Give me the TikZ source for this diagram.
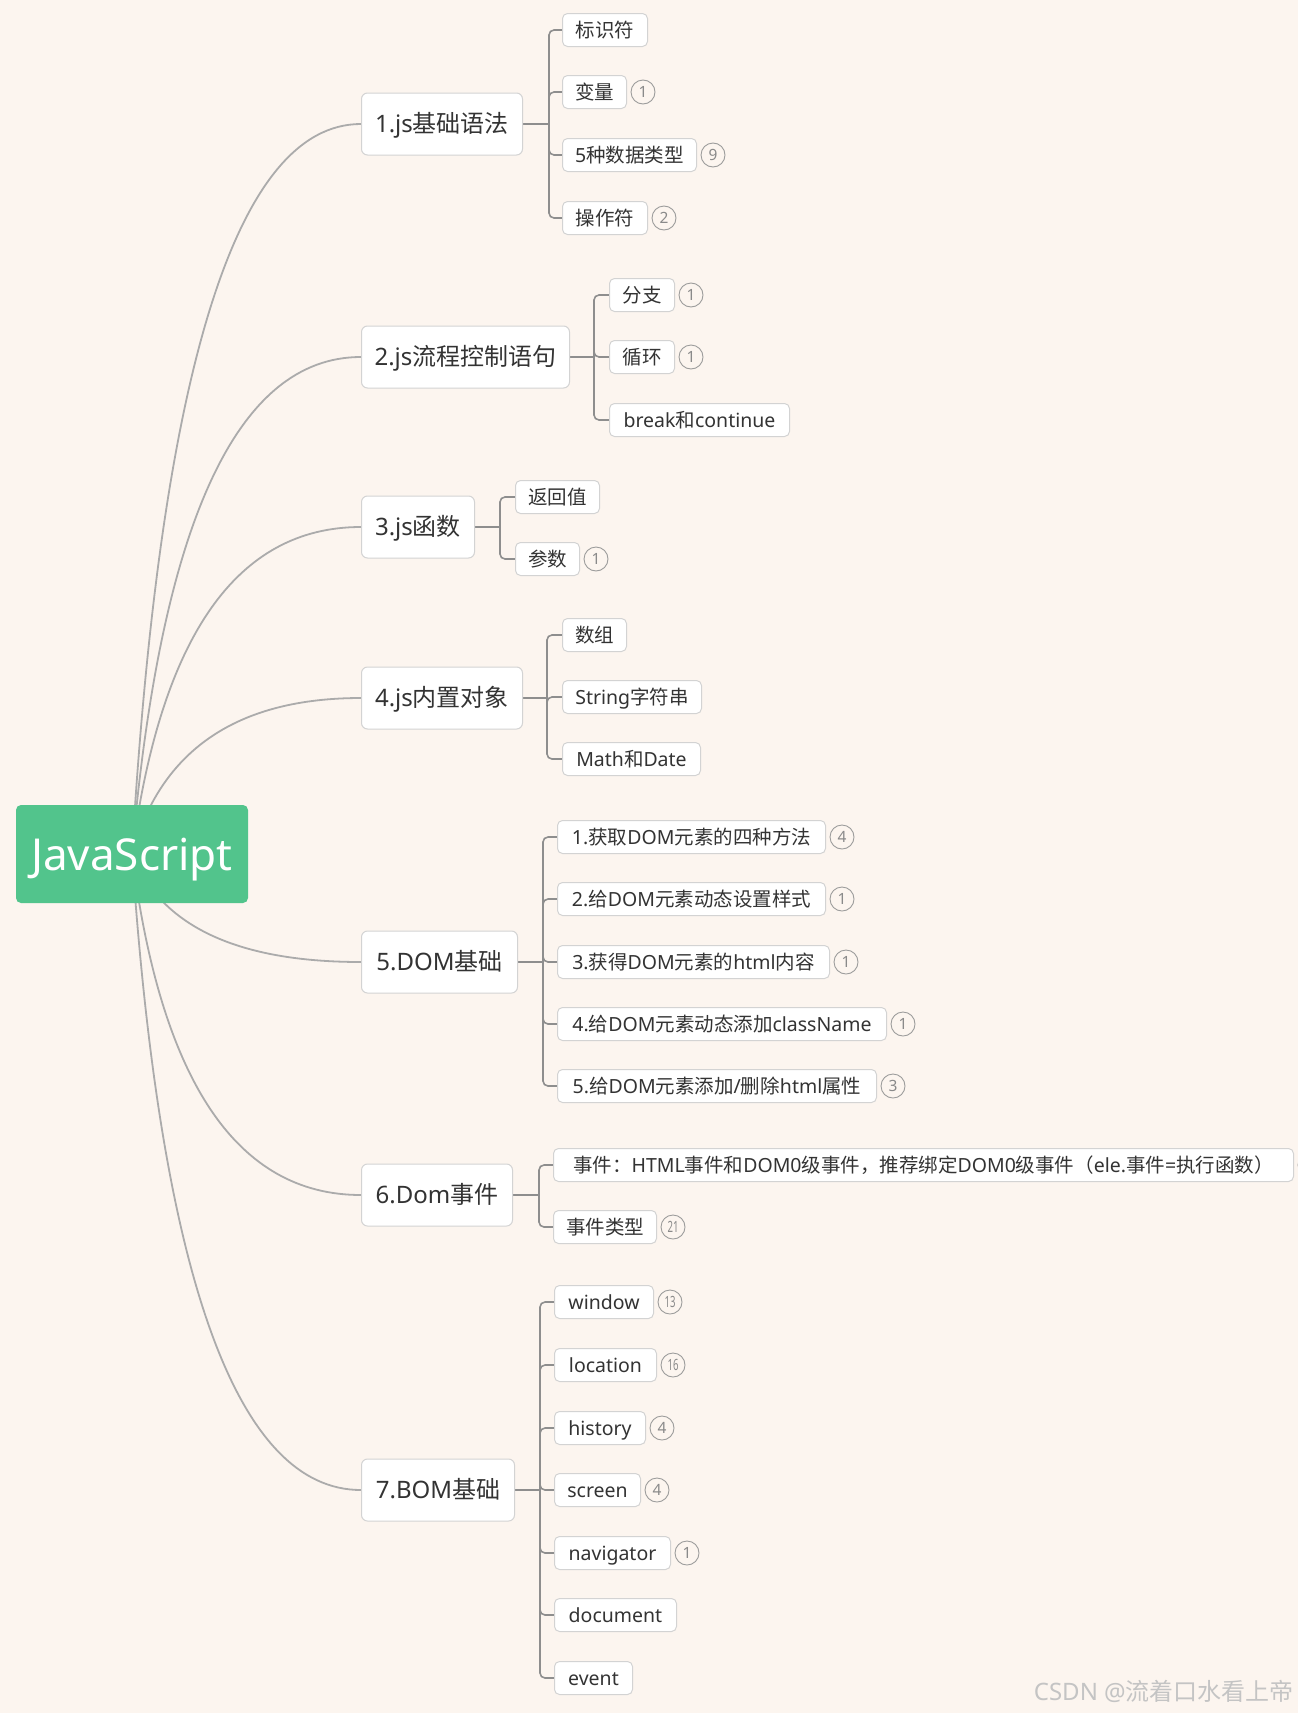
\documentclass[tikz,border=0pt]{standalone}
\usepackage{fontspec}
\usepackage{graphicx}
\usetikzlibrary{calc}
\setmainfont{Noto Sans}
\newfontfamily\cjkfont{Noto Sans CJK SC}
\newfontfamily\latfont{Noto Sans}
\newXeTeXintercharclass\mycjkcls
\newcount\mycjkc
\mycjkc="2E80
\loop\XeTeXcharclass\mycjkc=\mycjkcls \advance\mycjkc by 1 \ifnum\mycjkc<"A000 \repeat
\mycjkc="FF00
\loop\XeTeXcharclass\mycjkc=\mycjkcls \advance\mycjkc by 1 \ifnum\mycjkc<"FFF0 \repeat
\XeTeXinterchartoks 0 \mycjkcls={\cjkfont}
\XeTeXinterchartoks 4095 \mycjkcls={\cjkfont}
\XeTeXinterchartoks \mycjkcls 0={\latfont}
\XeTeXinterchartoks \mycjkcls 4095={\latfont}
\XeTeXinterchartokenstate=1
\definecolor{bgcol}{HTML}{FCF5EF}
\definecolor{rootcol}{HTML}{52C48C}
\definecolor{boxline}{HTML}{D3D3D3}
\definecolor{txt}{HTML}{333333}
\definecolor{curvecol}{HTML}{ABABAB}
\definecolor{brkcol}{HTML}{8E8E8E}
\definecolor{badgeline}{HTML}{9C9C9C}
\definecolor{badgetxt}{HTML}{8A8A8A}
\definecolor{wmcol}{HTML}{C4C4C4}
\pgfdeclarelayer{bglayer}
\pgfdeclarelayer{edgelayer}
\pgfsetlayers{bglayer,edgelayer,main}
\tikzset{
  rootbox/.style={fill=rootcol, rounded corners=5, minimum width=232, minimum height=98, inner sep=0, text height=32, text depth=0, text=white, font=\fontsize{44}{50}\selectfont},
  lone/.style={draw=boxline, fill=white, rounded corners=6, line width=1, minimum height=62, inner sep=0, text height=17.3, text depth=0, text=txt, anchor=west, font=\fontsize{24}{28}\selectfont},
  ltwo/.style={draw=boxline, fill=white, rounded corners=5, line width=1, minimum height=33, inner sep=0, text height=14, text depth=0, text=txt, anchor=west, font=\fontsize{19.5}{23}\selectfont},
  badge/.style={circle, draw=badgeline, line width=0.9, minimum size=24, inner sep=0, text height=11, text depth=0, text=badgetxt, font=\fontsize{15.5}{16}\selectfont},
  curveline/.style={draw=curvecol, line width=1.8},
  brk/.style={draw=brkcol, line width=1.6, rounded corners=5},
  wm/.style={text=wmcol, inner sep=0, font=\fontsize{24}{27}\selectfont},
}
\newcommand\twodig[1]{\scalebox{0.62}[1]{#1}}
\newcommand\rootcurve[2]{\draw[curveline] (root.center) .. controls ($(root.center)!0.6667!(175,#2)$) and ($(#1.west)!0.6667!(175,#2)$) .. (#1.west);}
\begin{document}
\begin{tikzpicture}[x=1pt,y=-1pt]
\useasboundingbox (0,0) rectangle (1298,1713);
\begin{pgfonlayer}{bglayer}
\fill[bgcol] (0,0) rectangle (1298,1713);
\end{pgfonlayer}

% root
\node[rootbox] (root) at (132,854) {JavaScript};

% level 1
\node[lone, minimum width=161] (n1) at (361,124) {1.js基础语法};
\node[lone, minimum width=208] (n2) at (361,357) {2.js流程控制语句};
\node[lone, minimum width=113] (n3) at (361,527) {3.js函数};
\node[lone, minimum width=161] (n4) at (361,698) {4.js内置对象};
\node[lone, minimum width=156] (n5) at (361,962) {5.DOM基础};
\node[lone, minimum width=151] (n6) at (361,1195) {6.Dom事件};
\node[lone, minimum width=153] (n7) at (361,1490) {7.BOM基础};

% group 1
\node[ltwo, minimum width=85] (a1) at (562,30) {标识符};
\node[ltwo, minimum width=64] (a2) at (562,92) {变量};
\node[ltwo, minimum width=134] (a3) at (562,155) {5种数据类型};
\node[ltwo, minimum width=85] (a4) at (562,218) {操作符};
\node[badge] (ba2) at ([xshift=16]a2.east) {1};
\node[badge] (ba3) at ([xshift=16]a3.east) {9};
\node[badge] (ba4) at ([xshift=16]a4.east) {2};
\coordinate (t1) at (549,124);

% group 2
\node[ltwo, minimum width=65] (b1) at (609,295) {分支};
\node[ltwo, minimum width=65] (b2) at (609,357) {循环};
\node[ltwo, minimum width=180] (b3) at (609,420) {break和continue};
\node[badge] (bb1) at ([xshift=16]b1.east) {1};
\node[badge] (bb2) at ([xshift=16]b2.east) {1};
\coordinate (t2) at (594,357);

% group 3
\node[ltwo, minimum width=84] (c1) at (515,497) {返回值};
\node[ltwo, minimum width=64] (c2) at (515,559) {参数};
\node[badge] (bc2) at ([xshift=16]c2.east) {1};
\coordinate (t3) at (500,527);

% group 4
\node[ltwo, minimum width=64] (d1) at (562,635) {数组};
\node[ltwo, minimum width=139] (d2) at (562,697) {String字符串};
\node[ltwo, minimum width=138] (d3) at (562,759) {Math和Date};
\coordinate (t4) at (547,698);

% group 5
\node[ltwo, minimum width=268] (e1) at (557,837) {1.获取DOM元素的四种方法};
\node[ltwo, minimum width=268] (e2) at (557,899) {2.给DOM元素动态设置样式};
\node[ltwo, minimum width=272] (e3) at (557,962) {3.获得DOM元素的html内容};
\node[ltwo, minimum width=329] (e4) at (557,1024) {4.给DOM元素动态添加className};
\node[ltwo, minimum width=319] (e5) at (557,1086) {5.给DOM元素添加/删除html属性};
\node[badge] (be1) at ([xshift=16]e1.east) {4};
\node[badge] (be2) at ([xshift=16]e2.east) {1};
\node[badge] (be3) at ([xshift=16]e3.east) {1};
\node[badge] (be4) at ([xshift=16]e4.east) {1};
\node[badge] (be5) at ([xshift=16]e5.east) {3};
\coordinate (t5) at (543,962);

% group 6
\node[ltwo, minimum width=740] (f1) at (553,1165) {事件：HTML事件和DOM0级事件，推荐绑定DOM0级事件（ele.事件=执行函数）};
\node[ltwo, minimum width=103] (f2) at (553,1227) {事件类型};
\node[badge] (bf1) at ([xshift=16]f1.east) {};
\node[badge] (bf2) at ([xshift=16]f2.east) {\twodig{21}};
\coordinate (t6) at (539,1195);

% group 7
\node[ltwo, minimum width=99] (g1) at (554,1302) {window};
\node[ltwo, minimum width=102] (g2) at (554,1365) {location};
\node[ltwo, minimum width=91] (g3) at (554,1428) {history};
\node[ltwo, minimum width=86] (g4) at (554,1490) {screen};
\node[ltwo, minimum width=116] (g5) at (554,1553) {navigator};
\node[ltwo, minimum width=122] (g6) at (554,1615) {document};
\node[ltwo, minimum width=78] (g7) at (554,1678) {event};
\node[badge] (bg1) at ([xshift=16]g1.east) {\twodig{13}};
\node[badge] (bg2) at ([xshift=16]g2.east) {\twodig{16}};
\node[badge] (bg3) at ([xshift=16]g3.east) {4};
\node[badge] (bg4) at ([xshift=16]g4.east) {4};
\node[badge] (bg5) at ([xshift=16]g5.east) {1};
\coordinate (t7) at (540,1490);

% watermark
\node[wm, anchor=east] (wmk) at (1294,1691) {CSDN @流着口水看上帝};

\begin{pgfonlayer}{edgelayer}
\rootcurve{n1}{124}
\rootcurve{n2}{357}
\rootcurve{n3}{527}
\rootcurve{n4}{698}
\rootcurve{n5}{962}
\rootcurve{n6}{1195}
\rootcurve{n7}{1490}
\draw[brk] (n1.east) -- (t1);
\foreach \c in {a1,a2,a3,a4} \draw[brk] (t1) |- (\c.west);
\draw[brk] (n2.east) -- (t2);
\foreach \c in {b1,b2,b3} \draw[brk] (t2) |- (\c.west);
\draw[brk] (n3.east) -- (t3);
\foreach \c in {c1,c2} \draw[brk] (t3) |- (\c.west);
\draw[brk] (n4.east) -- (t4);
\foreach \c in {d1,d2,d3} \draw[brk] (t4) |- (\c.west);
\draw[brk] (n5.east) -- (t5);
\foreach \c in {e1,e2,e3,e4,e5} \draw[brk] (t5) |- (\c.west);
\draw[brk] (n6.east) -- (t6);
\foreach \c in {f1,f2} \draw[brk] (t6) |- (\c.west);
\draw[brk] (n7.east) -- (t7);
\foreach \c in {g1,g2,g3,g4,g5,g6,g7} \draw[brk] (t7) |- (\c.west);
\end{pgfonlayer}
\end{tikzpicture}
\end{document}
